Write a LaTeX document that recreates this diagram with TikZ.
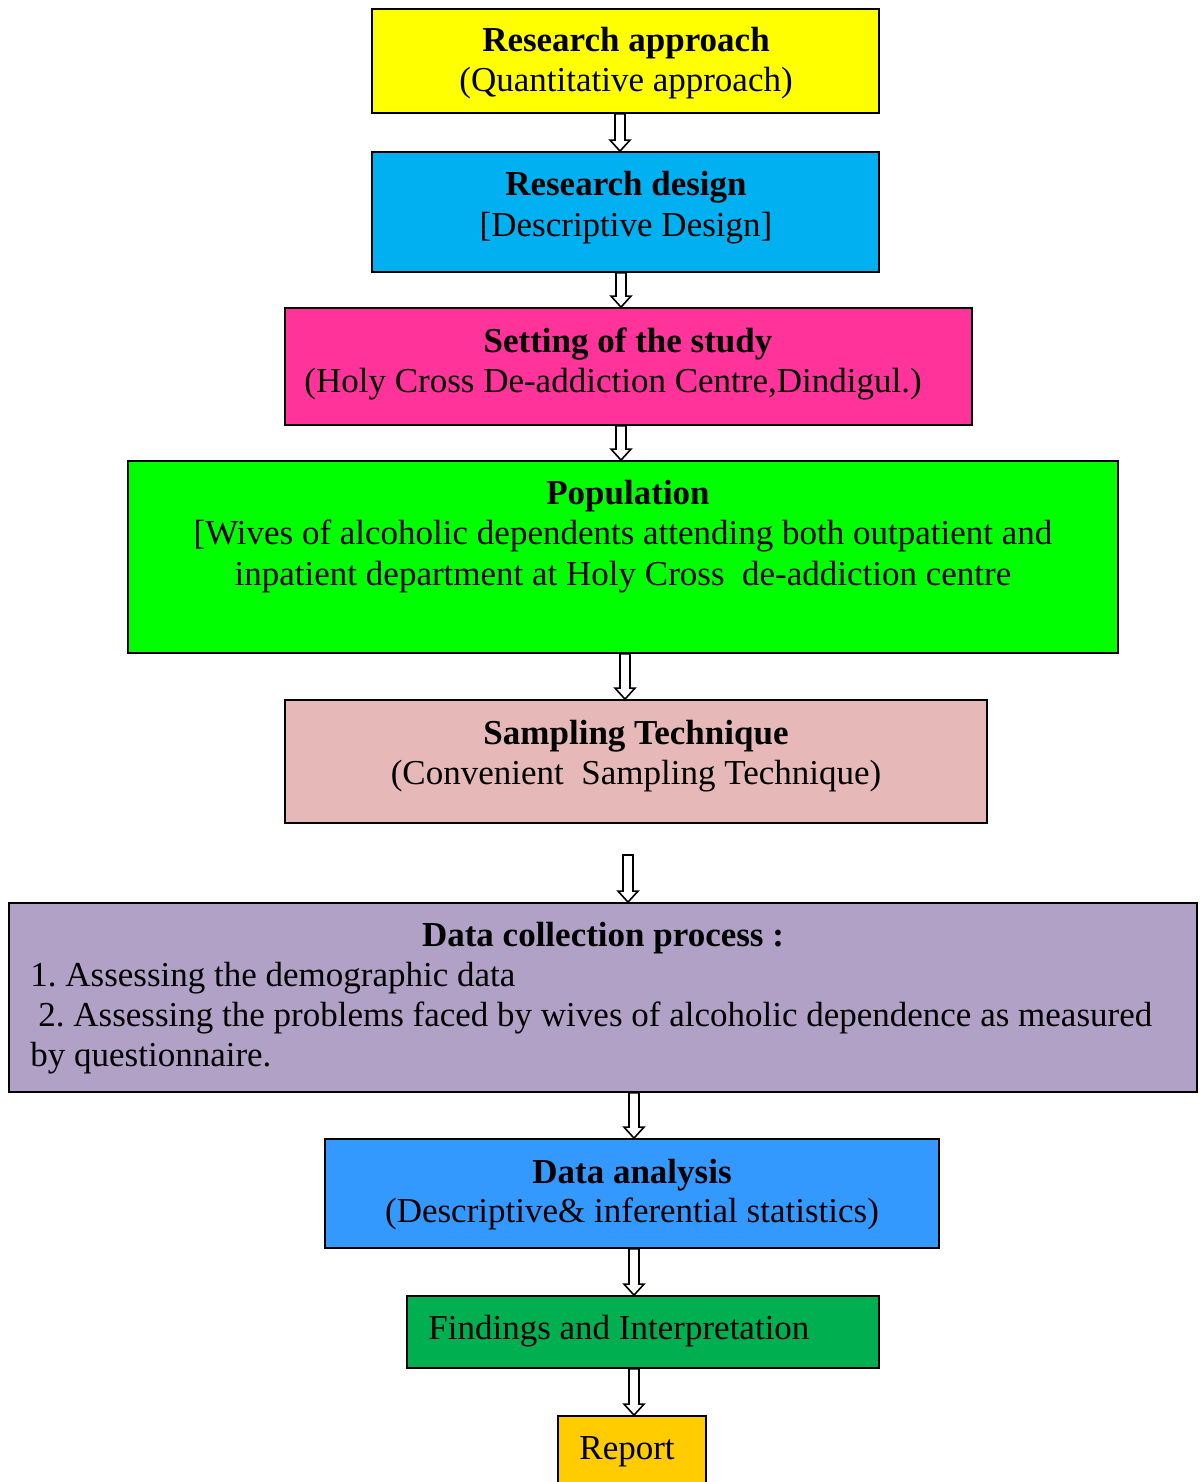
\documentclass[tikz,border=0pt]{standalone}
\usepackage{fontspec}
\setmainfont{Liberation Serif}
\usetikzlibrary{calc}
\frenchspacing
\definecolor{cA}{HTML}{FFFF00}
\definecolor{cB}{HTML}{00B0F0}
\definecolor{cC}{HTML}{FF3399}
\definecolor{cD}{HTML}{00FF00}
\definecolor{cE}{HTML}{E6B8B7}
\definecolor{cF}{HTML}{B2A1C7}
\definecolor{cG}{HTML}{3399FF}
\definecolor{cH}{HTML}{00B050}
\definecolor{cI}{HTML}{FFCC00}
\tikzset{
  box/.style={draw=black, line width=0.9pt, rectangle, inner sep=0pt},
  txt/.style={anchor=base, inner sep=0pt, font=\fontsize{17.5}{20}\selectfont\frenchspacing},
  btxt/.style={txt, font=\fontsize{17.5}{20}\selectfont\bfseries\frenchspacing},
  harrow/.style={draw=black, fill=white, line width=0.8pt, line join=miter},
}
\newcommand{\hollow}[3]{%
  \coordinate (ax) at (#1,0);
  \coordinate (atop) at (ax |- #2);
  \coordinate (abot) at (ax |- #3);
  \draw[harrow] ($(atop)+(-5,0)$) -- ($(abot)+(-5,-11)$) -- ($(abot)+(-10,-11)$)
    -- (abot) -- ($(abot)+(10,-11)$) -- ($(abot)+(5,-11)$) -- ($(atop)+(5,0)$) -- cycle;
}
\begin{document}
\begin{tikzpicture}[x=0.5pt, y=-0.5pt]
\useasboundingbox (0,0) rectangle (1199,1482);
\begin{scope}
\clip (0,0) rectangle (1199,1482);
% boxes
\node[box, fill=cA, minimum width=253.5pt, minimum height=52pt] (b1) at (625.5,61) {};
\node[box, fill=cB, minimum width=253.5pt, minimum height=60pt] (b2) at (625.5,212) {};
\node[box, fill=cC, minimum width=343.5pt, minimum height=58.5pt] (b3) at (628.5,366.5) {};
\node[box, fill=cD, minimum width=495pt, minimum height=96pt] (b4) at (623,557) {};
\node[box, fill=cE, minimum width=351pt, minimum height=61.5pt] (b5) at (636,761.5) {};
\node[box, fill=cF, minimum width=594pt, minimum height=94.5pt] (b6) at (603,997.5) {};
\node[box, fill=cG, minimum width=307pt, minimum height=54.5pt] (b7) at (632,1193.5) {};
\node[box, fill=cH, minimum width=236pt, minimum height=36pt] (b8) at (643,1332) {};
\node[box, fill=cI, minimum width=74pt, minimum height=40pt] (b9) at (632,1456) {};
\end{scope}
% texts
\node[btxt] (t1a) at (626,52) {Research approach};
\node[txt] (t1b) at (626,92) {(Quantitative approach)};
\node[btxt] (t2a) at (626,196) {Research design};
\node[txt] (t2b) at (626,236) {[Descriptive Design]};
\node[btxt] (t3a) at (628,352) {Setting of the study};
\node[txt] (t3b) at (613,392) {(Holy Cross De-addiction Centre,Dindigul.)};
\node[btxt] (t4a) at (628,504) {Population};
\node[txt] (t4b) at (623,544) {[Wives of alcoholic dependents attending both outpatient and};
\node[txt] (t4c) at (623,585) {inpatient department at Holy Cross\ \ de-addiction centre};
\node[btxt] (t5a) at (636,744) {Sampling Technique};
\node[txt] (t5b) at (636,784) {(Convenient\ \ Sampling Technique)};
\node[btxt] (t6a) at (603,946) {Data collection process :};
\node[txt, anchor=base west] (t6b) at (30,986) {1. Assessing the demographic data};
\node[txt, anchor=base west] (t6c) at (38,1026) {2. Assessing the problems faced by wives of alcoholic dependence as measured};
\node[txt, anchor=base west] (t6d) at (30,1066) {by questionnaire.};
\node[btxt] (t7a) at (632,1183) {Data analysis};
\node[txt] (t7b) at (632,1222) {(Descriptive\& inferential statistics)};
\node[txt, anchor=base west] (t8) at (428,1339) {Findings and Interpretation};
\node[txt, anchor=base west] (t9) at (579,1459) {Report};
% arrows
\coordinate (s56) at (628,855);
\hollow{620}{b1.south}{b2.north}
\hollow{621}{b2.south}{b3.north}
\hollow{621}{b3.south}{b4.north}
\hollow{625}{b4.south}{b5.north}
\hollow{628}{s56}{b6.north}
\hollow{634}{b6.south}{b7.north}
\hollow{634}{b7.south}{b8.north}
\hollow{634}{b8.south}{b9.north}
\end{tikzpicture}
\end{document}
